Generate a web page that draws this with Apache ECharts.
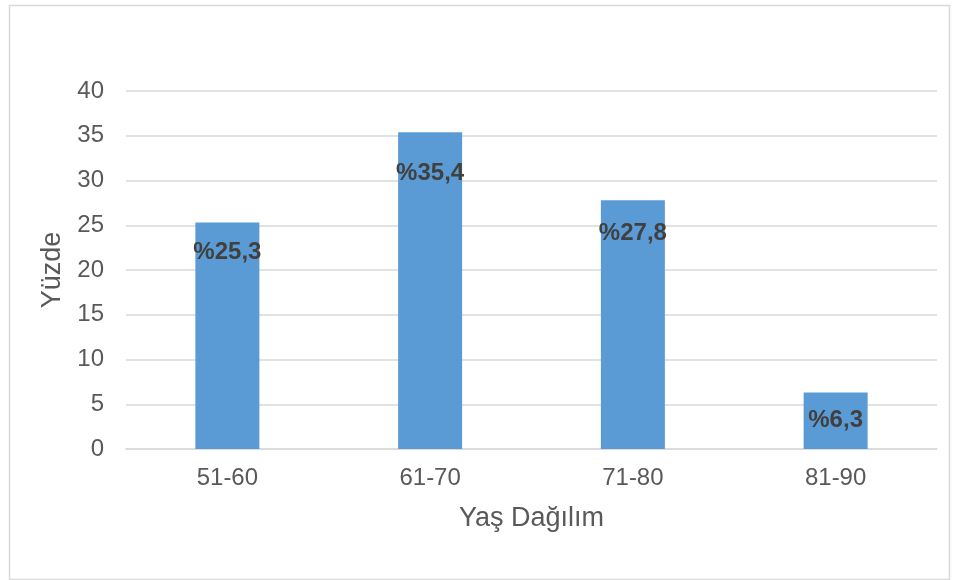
<!DOCTYPE html>
<html>
<head>
<meta charset="utf-8">
<script src="https://cdn.jsdelivr.net/npm/echarts@6/dist/echarts.min.js"></script>
<style>
  html, body { margin: 0; padding: 0; background: #fff; }
  #chart { width: 958px; height: 580px; }
</style>
</head>
<body>
<div id="chart"></div>
<script>
// Age groups and their share (%)
const categories = ['51-60', '61-70', '71-80', '81-90'];
const values = [25.3, 35.4, 27.8, 6.3];
const yTicks = { min: 0, max: 40, interval: 5 };

const chart = echarts.init(document.getElementById('chart'));
const fontFamily = 'Liberation Sans, Arial, sans-serif';

// value labels were hand-placed a little lower on some bars
const labelDrop = [0, 11, 3, -2];

chart.setOption({
  animation: false,
  backgroundColor: '#ffffff',
  graphic: [{
    type: 'rect',
    left: 7, top: 3,
    shape: { width: 940, height: 574 },
    style: { fill: 'none', stroke: '#d9d9d9', lineWidth: 1.5 },
    z: -1
  }],
  grid: { left: 126, right: 21, top: 91, bottom: 131, containLabel: false },
  xAxis: {
    type: 'category',
    data: categories,
    name: 'Yaş Dağılım',
    nameLocation: 'middle',
    nameGap: 56,
    nameTextStyle: { color: '#595959', fontSize: 27, fontFamily },
    axisLine: { show: true, lineStyle: { color: '#d9d9d9', width: 1.5 } },
    axisTick: { show: false },
    axisLabel: { color: '#595959', fontSize: 24, fontFamily, margin: 17 }
  },
  yAxis: {
    type: 'value',
    min: yTicks.min,
    max: yTicks.max,
    interval: yTicks.interval,
    name: 'Yüzde',
    nameLocation: 'middle',
    nameGap: 48,
    nameTextStyle: { color: '#595959', fontSize: 27, fontFamily },
    axisLine: { show: false },
    axisTick: { show: false },
    axisLabel: { color: '#595959', fontSize: 24, fontFamily, margin: 22 },
    splitLine: { lineStyle: { color: '#d9d9d9', width: 1.5 } }
  },
  series: [{
    type: 'bar',
    data: values.map((v, i) => ({ value: v, label: { offset: [0, labelDrop[i]] } })),
    barWidth: 64,
    itemStyle: { color: '#5b9bd5' },
    label: {
      show: true,
      position: 'insideTop',
      distance: 18,
      formatter: (p) => '%' + String(p.value).replace('.', ','),
      color: '#404040',
      fontSize: 24,
      fontWeight: 'bold',
      fontFamily
    }
  }]
});
</script>
</body>
</html>
